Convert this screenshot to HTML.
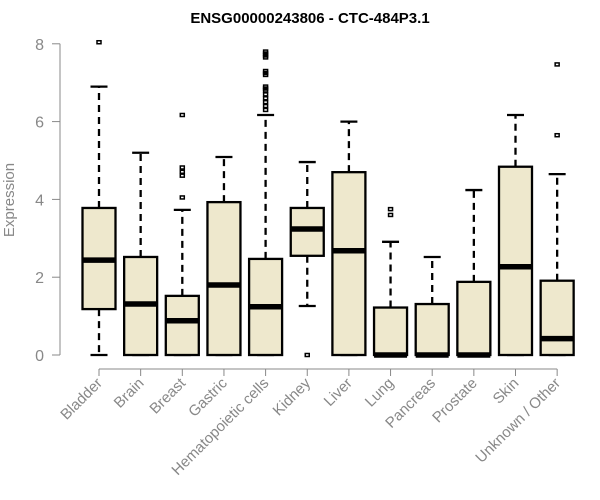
<!DOCTYPE html>
<html><head><meta charset="utf-8"><style>
body{margin:0;background:#fff}
svg{display:block;font-family:"Liberation Sans",Arial,sans-serif}
</style></head><body>
<svg id="chart" width="600" height="500">
<text x="310" y="23" text-anchor="middle" font-weight="bold" font-size="15" fill="#000">ENSG00000243806 - CTC-484P3.1</text>
<text transform="translate(14,200) rotate(-90)" text-anchor="middle" font-size="15" fill="#888">Expression</text>
<g id="yaxis"></g>
<g id="xaxis"></g>
<g id="boxes"></g>
</svg>
<script>
const categories=["Bladder","Brain","Breast","Gastric","Hematopoietic cells","Kidney","Liver","Lung","Pancreas","Prostate","Skin","Unknown / Other"];
const whiskerLow=[0,0,0,0,0,1.26,0,0,0,0,0,0];
const q1=[1.18,0,0,0,0,2.55,0,0,0,0,0,0];
const median=[2.44,1.31,0.88,1.80,1.24,3.24,2.68,0,0,0,2.27,0.42];
const q3=[3.78,2.52,1.52,3.93,2.47,3.78,4.70,1.22,1.31,1.88,4.84,1.91];
const whiskerHigh=[6.9,5.2,3.73,5.09,6.17,4.96,6.0,2.91,2.52,4.24,6.17,4.65];
const outliers=[[8.04],[],[6.17,4.82,4.71,4.61,4.05],[],[7.8,7.75,7.7,7.65,7.3,7.25,7.2,6.9,6.85,6.8,6.7,6.6,6.5,6.4,6.3],[0],[],[3.75,3.6],[],[],[],[7.47,5.65]];
const yTicks=[0,2,4,6,8];
const NS="http://www.w3.org/2000/svg";
const y=v=>355-v*38.9;
const x=i=>99+i*41.65;
function mk(tag,attrs,parent){const e=document.createElementNS(NS,tag);for(const k in attrs)e.setAttribute(k,attrs[k]);parent.appendChild(e);return e;}
const ya=document.getElementById('yaxis'),xa=document.getElementById('xaxis'),bx=document.getElementById('boxes');
mk('line',{x1:60,x2:60,y1:y(0),y2:y(8),stroke:'#888','stroke-width':1},ya);
yTicks.forEach(t=>{
 const l=mk('line',{x1:52,x2:60,y1:y(t),y2:y(t),stroke:'#888'},ya);
 
 
 const tx=mk('text',{x:44,y:y(t)+6,'text-anchor':'end','font-size':16,fill:'#888'},ya);
 tx.textContent=t;
 
 
});
mk('line',{x1:x(0),x2:x(categories.length-1),y1:369,y2:369,stroke:'#888'},xa);
categories.forEach((c,i)=>{
 const cx=x(i);
 const tk=mk('line',{x1:cx,x2:cx,y1:369,y2:376,stroke:'#888'},xa);
 
 
 const t=mk('text',{transform:`translate(${cx+4},${384}) rotate(-45)`,'text-anchor':'end','font-size':15,fill:'#888'},xa);
 t.textContent=c;
 
 
 const g=mk('g',{},bx);
 
 
 const hw=16.5,cw=8.5;
 mk('line',{x1:cx,x2:cx,y1:y(q3[i]),y2:y(whiskerHigh[i]),stroke:'#000','stroke-width':2.3,'stroke-dasharray':'7,5'},g);
 mk('line',{x1:cx,x2:cx,y1:y(q1[i]),y2:y(whiskerLow[i]),stroke:'#000','stroke-width':2.3,'stroke-dasharray':'7,5'},g);
 mk('line',{x1:cx-cw,x2:cx+cw,y1:y(whiskerHigh[i]),y2:y(whiskerHigh[i]),stroke:'#000','stroke-width':2.3},g);
 mk('line',{x1:cx-cw,x2:cx+cw,y1:y(whiskerLow[i]),y2:y(whiskerLow[i]),stroke:'#000','stroke-width':2.3},g);
 mk('rect',{x:cx-hw,y:y(q3[i]),width:hw*2,height:Math.max(0,y(q1[i])-y(q3[i])),fill:'#EEE8CD',stroke:'#000','stroke-width':2.3},g);
 mk('line',{x1:cx-hw,x2:cx+hw,y1:y(median[i]),y2:y(median[i]),stroke:'#000','stroke-width':5.5},g);
 outliers[i].forEach(o=>{
  const p=mk('rect',{x:cx-2,y:y(o)-1.5,width:4,height:3,fill:'none',stroke:'#000','stroke-width':1.5},g);
  
  
 });
});
</script>
</body></html>
